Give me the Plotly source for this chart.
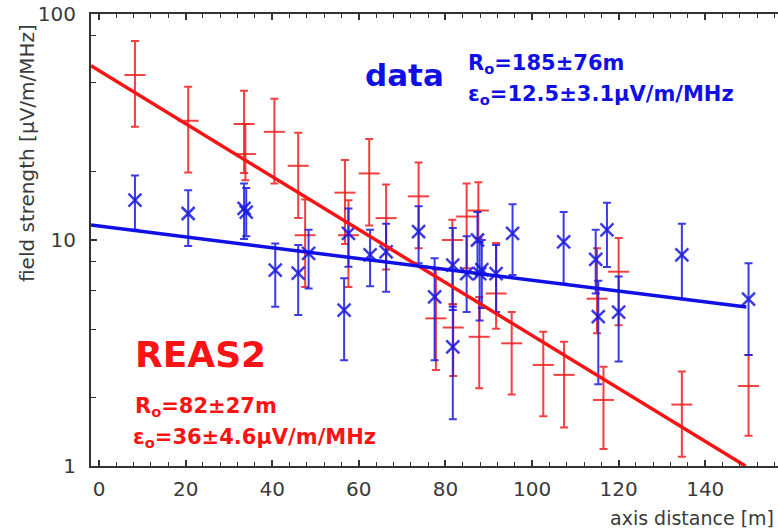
import plotly.graph_objects as go

# ---------------- data ----------------
# REAS2 simulation (red): distance [m], field, upper end, lower end
reas_x  = [8.3, 20.6, 33.5, 33.8, 40.5, 46.0, 47.6, 56.8, 57.6, 62.4, 66.3, 73.8, 77.8, 81.6, 81.8,
           84.9, 87.6, 87.8, 91.7, 95.3, 102.6, 107.4, 115.0, 116.5, 120.0, 134.6, 150.0]
reas_y  = [53.7, 33.7, 32.6, 24.0, 30.1, 21.3, 10.5, 16.2, 10.5, 19.7, 12.5, 15.6, 4.5, 10.0, 4.1,
           12.7, 13.5, 3.73, 5.8, 3.49, 2.80, 2.53, 5.5, 1.96, 7.24, 1.87, 2.26]
reas_hi = [76.0, 47.7, 45.8, 32.6, 42.2, 29.8, 15.1, 22.6, 15.0, 28.0, 17.6, 22.0, 7.4, 12.3, 5.2,
           17.8, 18.0, 5.6, 9.7, 4.8, 3.93, 3.55, 9.2, 2.75, 10.2, 2.62, 3.1]
reas_lo = [31.7, 19.9, 19.8, 18.4, 17.8, 12.5, 6.2, 9.6, 6.2, 11.6, 7.4, 9.2, 2.66, 5.2, 2.5,
           7.5, 10.2, 2.21, 4.05, 2.07, 1.66, 1.48, 3.87, 1.19, 4.2, 1.10, 1.36]

# LOPES data (blue)
data_x  = [8.3, 20.6, 33.5, 34.0, 40.7, 46.0, 48.4, 56.6, 57.6, 62.6, 66.3, 73.8, 77.5, 81.7, 81.7,
           84.9, 87.4, 87.9, 88.4, 91.7, 95.5, 107.3, 114.7, 115.3, 117.3, 120.0, 134.6, 150.0]
data_y  = [15.0, 13.1, 13.8, 13.3, 7.36, 7.13, 8.73, 4.9, 10.7, 8.6, 8.87, 10.9, 5.6, 7.74, 3.37,
           7.1, 10.0, 7.1, 7.4, 7.1, 10.7, 9.8, 8.2, 4.58, 11.1, 4.8, 8.6, 5.47]
data_hi = [19.3, 16.6, 17.8, 17.0, 9.66, 9.5, 11.1, 6.78, 13.8, 11.1, 11.8, 14.1, 8.3, 11.3, 5.07,
           10.4, 13.3, 9.8, 10.0, 9.5, 14.4, 13.3, 11.1, 6.6, 14.6, 6.9, 11.8, 7.9]
data_lo = [11.1, 9.4, 10.1, 10.4, 5.07, 4.66, 6.1, 2.94, 7.62, 6.25, 5.9, 7.9, 2.94, 4.9, 1.61,
           4.8, 7.1, 4.4, 5.0, 4.8, 7.0, 6.4, 5.8, 2.3, 7.6, 2.9, 5.5, 3.1]

# exponential fits (end points)
reas_fit_x = [-1.85, 149.3]
reas_fit_y = [59.0, 1.0]
data_fit_x = [-1.85, 149.5]
data_fit_y = [11.65, 5.05]

x_ticks = [0, 20, 40, 60, 80, 100, 120, 140]
y_ticks = [1, 10, 100]
y_minor = [2, 4, 6, 8, 20, 50, 80]

RED = "rgb(248,20,20)"
BLUE = "rgb(15,15,230)"
RED_E = "rgba(240,30,30,0.85)"
BLUE_E = "rgba(25,25,225,0.85)"

fig = go.Figure()

fig.add_trace(go.Scatter(
    x=reas_x, y=reas_y, mode="markers",
    marker=dict(symbol="line-ew", size=15, line=dict(color=RED_E, width=2)),
    error_y=dict(type="data", symmetric=False,
                 array=[h - v for h, v in zip(reas_hi, reas_y)],
                 arrayminus=[v - l for v, l in zip(reas_y, reas_lo)],
                 color=RED_E, thickness=2, width=4),
    showlegend=False))

fig.add_trace(go.Scatter(
    x=data_x, y=data_y, mode="markers",
    marker=dict(symbol="x-thin", size=13, line=dict(color=BLUE_E, width=2.5)),
    error_y=dict(type="data", symmetric=False,
                 array=[h - v for h, v in zip(data_hi, data_y)],
                 arrayminus=[v - l for v, l in zip(data_y, data_lo)],
                 color=BLUE_E, thickness=2, width=4),
    showlegend=False))

fig.add_trace(go.Scatter(x=reas_fit_x, y=reas_fit_y, mode="lines",
                         line=dict(color=RED, width=3.5), showlegend=False))
fig.add_trace(go.Scatter(x=data_fit_x, y=data_fit_y, mode="lines",
                         line=dict(color=BLUE, width=3.5), showlegend=False))

# ---------------- layout ----------------
L, R, T, B = 91, 0, 14, 64
W, H = 778, 530
PW, PH = W - L - R, H - T - B


def px(xp):
    return (xp - L) / PW


def py(yp):
    return (H - B - yp) / PH


BOLD = "DejaVu Sans"
annotations = [
    dict(text="<b>data</b>", x=px(363), y=py(75), font=dict(size=31, color=BLUE, family=BOLD)),
    dict(text="<b>R<sub>o</sub>=185±76m</b>", x=px(466), y=py(64), font=dict(size=21, color=BLUE, family=BOLD)),
    dict(text="<b>ε<sub>o</sub>=12.5±3.1µV/m/MHz</b>", x=px(466), y=py(95), font=dict(size=21, color=BLUE, family=BOLD)),
    dict(text="<b>REAS2</b>", x=px(133), y=py(354), font=dict(size=36, color=RED, family=BOLD)),
    dict(text="<b>R<sub>o</sub>=82±27m</b>", x=px(133), y=py(407), font=dict(size=21, color=RED, family=BOLD)),
    dict(text="<b>ε<sub>o</sub>=36±4.6µV/m/MHz</b>", x=px(131), y=py(438), font=dict(size=21, color=RED, family=BOLD)),
]
for a in annotations:
    a.update(xref="paper", yref="paper", xanchor="left", yanchor="middle", showarrow=False)

annotations.append(dict(text="field strength [µV/m/MHz]", textangle=-90,
                        xref="paper", yref="paper", x=px(27), y=py(153),
                        xanchor="center", yanchor="middle", showarrow=False,
                        font=dict(size=20, color="#3a3a3a", family="DejaVu Sans")))
annotations.append(dict(text="axis distance [m]",
                        xref="paper", yref="paper", x=px(608), y=py(518),
                        xanchor="left", yanchor="middle", showarrow=False,
                        font=dict(size=19, color="#3a3a3a", family="DejaVu Sans")))

fig.update_layout(
    width=W, height=H,
    margin=dict(l=L, r=R, t=T, b=B),
    plot_bgcolor="white", paper_bgcolor="white",
    font=dict(family="DejaVu Sans", color="#3a3a3a"),
    annotations=annotations,
    xaxis=dict(range=[-1.85, 156.8], tickvals=x_ticks, ticks="inside", ticklen=6, tickwidth=1.5,
               tickcolor="#333", showline=True, linecolor="#333", linewidth=2, mirror="ticks",
               showgrid=False, zeroline=False, tickfont=dict(size=20, color="#3a3a3a"),
               ticklabelstandoff=4,
               minor=dict(dtick=4, ticks="inside", ticklen=4, tickcolor="#333", tickwidth=1.2)),
    yaxis=dict(type="log", range=[0, 2], tickvals=y_ticks, ticktext=["1", "10", "100"],
               ticks="inside", ticklen=6, tickwidth=1.5, tickcolor="#333",
               showline=True, linecolor="#333", linewidth=2, mirror=False,
               showgrid=False, zeroline=False, tickfont=dict(size=20, color="#3a3a3a"),
               ticklabelstandoff=9,
               minor=dict(tickmode="array", tickvals=y_minor, ticks="inside", ticklen=5,
                          tickcolor="#333", tickwidth=1.2)),
)

fig.write_html("out.html")
